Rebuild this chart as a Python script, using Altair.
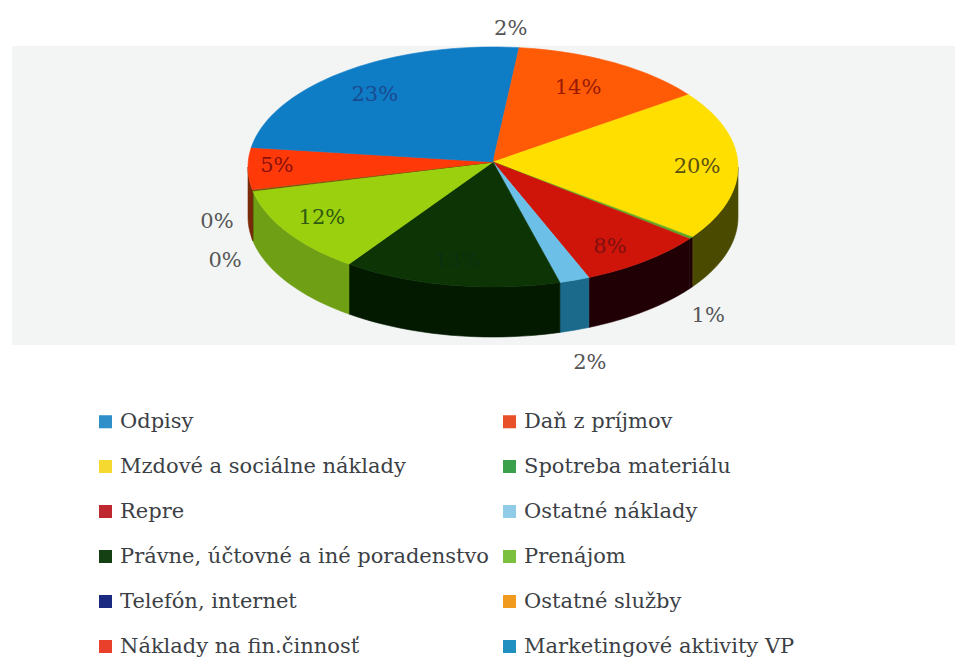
import math
import altair as alt
import pandas as pd

categories = ["Odpisy", "Daň z príjmov", "Mzdové a sociálne náklady", "Spotreba materiálu", "Repre",
              "Ostatné náklady", "Právne, účtovné a iné poradenstvo", "Prenájom", "Telefón, internet",
              "Ostatné služby", "Náklady na fin.činnosť", "Marketingové aktivity VP"]
shares = [1.7, 13.0, 20.2, 0.3, 8.4, 2.0, 14.4, 11.8, 0.1, 0.1, 5.6, 22.4]
labels = ["2%", "14%", "20%", "1%", "8%", "2%", "13%", "12%", "0%", "0%", "5%", "23%"]
top_colors = ["#0f7cc6", "#ff5a06", "#ffdf00", "#5fa828", "#cf1509", "#6cc0e8", "#0c3405", "#9bd00e",
              "#6a4a10", "#8a5a10", "#ff3a08", "#0f7cc6"]
side_colors = ["#0a5a90", "#a03a04", "#4a4a00", "#200005", "#200005", "#1b6a8c", "#031a00", "#6f9f14",
               "#4a3208", "#5a3a08", "#7a2a08", "#0a5a90"]
legend_colors = ["#2f8fc8", "#e8502a", "#f5d830", "#3aa04a", "#c0282f", "#90cce8", "#144014", "#7cc040",
                 "#1a2a80", "#f09a20", "#e8402a", "#2090c0"]
label_colors = ["#555555", "#9a1a05", "#5a5010", "#555555", "#801010", "#555555", "#0a3010", "#2f5a10",
                "#555555", "#555555", "#8a1010", "#1a4a90"]
label_polar = [(1.15, 3.6), (0.744, 27.8), (0.833, 90), (1.52, 144.7), (0.82, 144.4), (1.68, 166.4),
               (0.80, 190.3), (0.817, 238.7), (1.345, 234.4), (1.216, 247.9), (0.882, 270.5), (0.77, 321.2)]

CX, CY, RX, RY, DEPTH = 493, 167, 245, 120, 50
APEX = (493, 162)
W, H = 947, 649

def rim(t):
    a = math.radians(t)
    return CX + RX * math.sin(a), CY - RY * math.cos(a)

faces, sides, texts = [], [], []
start = 0.0
for i, s in enumerate(shares):
    t0, t1 = start * 3.6, (start + s) * 3.6
    start += s
    n = max(2, int((t1 - t0) / 2) + 2)
    arc = [rim(t0 + (t1 - t0) * k / (n - 1)) for k in range(n)]
    pts = [APEX] + arc + [APEX]
    for k, (x, y) in enumerate(pts):
        faces.append(dict(slice=f"f{i:02d}", k=k, x=x, y=y, c=top_colors[i]))
    lo, hi = max(t0, 90), min(t1, 270)
    if hi > lo:
        m = max(2, int((hi - lo) / 2) + 2)
        a2 = [rim(lo + (hi - lo) * k / (m - 1)) for k in range(m)]
        poly = a2 + [(x, y + DEPTH) for x, y in reversed(a2)]
        poly.append(poly[0])
        for k, (x, y) in enumerate(poly):
            sides.append(dict(slice=f"s{i:02d}", k=k, x=x, y=y, c=side_colors[i]))
    r, th = label_polar[i]
    a = math.radians(th)
    texts.append(dict(x=CX + r * RX * math.sin(a), y=CY - r * RY * math.cos(a), t=labels[i], c=label_colors[i]))

xs = alt.Scale(domain=[8, 8 + W], nice=False, zero=False)
ys = alt.Scale(domain=[8 + H, 8], nice=False, zero=False)
X = alt.X("x:Q", scale=xs, axis=None)
Y = alt.Y("y:Q", scale=ys, axis=None)

def poly_layer(rows):
    return alt.Chart(pd.DataFrame(rows)).mark_line(filled=True, strokeWidth=0.6, interpolate="linear").encode(
        x=X, y=Y, order="k:Q", detail="slice:N",
        fill=alt.Fill("c:N", scale=None), stroke=alt.Stroke("c:N", scale=None))

bg = alt.Chart(pd.DataFrame([dict(x=12, x2=955, y=46, y2=345)])).mark_rect(color="#f3f5f5").encode(
    x=X, x2="x2:Q", y=Y, y2="y2:Q")

txt = alt.Chart(pd.DataFrame(texts)).mark_text(font="DejaVu Serif", fontSize=21, align="center", baseline="middle").encode(
    x=X, y=Y, text="t:N", color=alt.Color("c:N", scale=None))

leg = alt.Chart(pd.DataFrame({"cat": categories})).mark_square(opacity=0).encode(
    x=alt.value(0), y=alt.value(0),
    color=alt.Color("cat:N", scale=alt.Scale(domain=categories, range=legend_colors), title=None,
                    legend=alt.Legend(orient="none", legendX=87, legendY=403, columns=2, direction="horizontal",
                                      symbolType="square", symbolSize=170, symbolOpacity=1, symbolStrokeWidth=0,
                                      labelFont="DejaVu Serif", labelFontSize=21, labelColor="#3c3f45",
                                      labelLimit=500, labelOffset=4, rowPadding=23, columnPadding=9,
                                      padding=0, symbolOffset=0)))

chart = alt.layer(bg, poly_layer(sides), poly_layer(faces), txt, leg).properties(
    width=W, height=H, padding=0, background="white", autosize=alt.AutoSizeParams(type="none")
).configure_view(stroke=None)

chart.save("out.html", embed_options={"renderer": "svg", "actions": False})
